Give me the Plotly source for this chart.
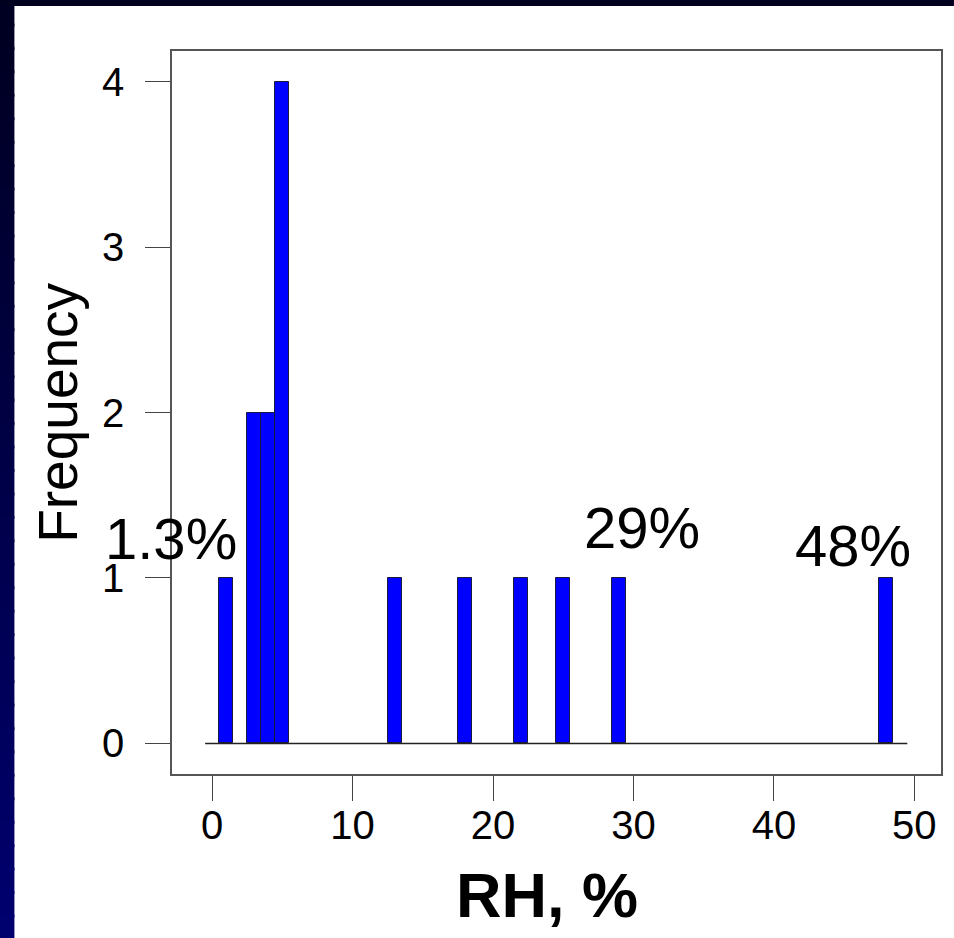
import plotly.graph_objects as go

# ---- data ----
rh_values = [1.3, 3, 3, 4, 4, 5, 5, 5, 5, 13, 18, 22, 25, 29, 48]
bin_start = -0.5
bin_end = 49.5
bin_size = 1
x_ticks = [0, 10, 20, 30, 40, 50]
y_ticks = [0, 1, 2, 3, 4]
note_labels = ["1.3%", "29%", "48%"]

W, H = 954, 938
ML, MR, MT, MB = 172, 11, 51, 164
PW = W - ML - MR
PH = H - MT - MB

TICK_FONT = "Liberation Sans, Arial, Helvetica, sans-serif"
TEXT_FONT = "Liberation Sans, Arial, Helvetica, sans-serif"


def px_x(p):
    return (p - ML) / PW


def px_y(p):
    return (H - MB - p) / PH


# annotation placement (page pixels)
note_px = [(171, 538), (643, 527), (855, 545)]

fig = go.Figure()
fig.add_trace(go.Histogram(
    x=rh_values,
    xbins=dict(start=bin_start, end=bin_end, size=bin_size),
    marker=dict(color="#0000ff", line=dict(color="#1a1a40", width=1)),
    showlegend=False,
))
# zero-count bins drawn as the baseline
fig.add_trace(go.Scatter(
    x=[bin_start, bin_end], y=[0, 0], mode="lines",
    line=dict(color="#222222", width=1.5), showlegend=False, hoverinfo="skip",
))

shapes = []
# left gradient strip
n = 40
for i in range(n):
    t = i / (n - 1)
    b = int(0x22 + (0x6e - 0x22) * t)
    col = "#0000%02x" % b
    shapes.append(dict(type="rect", xref="paper", yref="paper",
                       x0=px_x(-2), x1=px_x(14),
                       y0=px_y(H * (i + 1) / n + 3), y1=px_y(H * i / n),
                       fillcolor=col, line=dict(width=0), layer="below"))
# top dark strip
shapes.append(dict(type="rect", xref="paper", yref="paper",
                   x0=px_x(-2), x1=px_x(W + 2), y0=px_y(6), y1=px_y(-2),
                   fillcolor="#00001f", line=dict(width=0), layer="below"))

annotations = []
for lab, (ax, ay) in zip(note_labels, note_px):
    annotations.append(dict(text=lab, x=px_x(ax), y=px_y(ay), xref="paper", yref="paper",
                            showarrow=False, xanchor="center", yanchor="middle",
                            font=dict(family=TEXT_FONT, size=58, color="black")))
annotations.append(dict(text="Frequency", x=px_x(57), y=0.5, xref="paper", yref="paper",
                        textangle=-90, showarrow=False, xanchor="center", yanchor="middle",
                        font=dict(family=TEXT_FONT, size=55, color="black")))
annotations.append(dict(text="<b>RH, %</b>", x=px_x(548), y=px_y(895), xref="paper", yref="paper",
                        showarrow=False, xanchor="center", yanchor="middle",
                        font=dict(family=TEXT_FONT, size=63, color="black")))

fig.update_layout(
    width=W, height=H,
    margin=dict(l=ML, r=MR, t=MT, b=MB, pad=0),
    paper_bgcolor="white", plot_bgcolor="white",
    bargap=0,
    shapes=shapes,
    annotations=annotations,
    showlegend=False,
)
fig.update_xaxes(
    range=[-2.86, 51.9], tickmode="array", tickvals=x_ticks,
    ticks="outside", ticklen=25, tickwidth=1.3, tickcolor="#444444",
    showline=True, linecolor="#555555", linewidth=1.5, mirror=True,
    showgrid=False, zeroline=False, ticklabelstandoff=-10,
    tickfont=dict(family=TICK_FONT, size=40, color="black"),
)
fig.update_yaxes(
    range=[-0.185, 4.186], tickmode="array", tickvals=y_ticks,
    ticks="outside", ticklen=25, tickwidth=1.3, tickcolor="#444444",
    showline=True, linecolor="#555555", linewidth=1.5, mirror=True,
    showgrid=False, zeroline=False, ticklabelstandoff=13,
    tickfont=dict(family=TICK_FONT, size=40, color="black"),
)

fig.write_html("out.html",
               config={"displayModeBar": False},
               post_script="document.body.style.margin='0px';document.body.style.overflow='hidden';")
